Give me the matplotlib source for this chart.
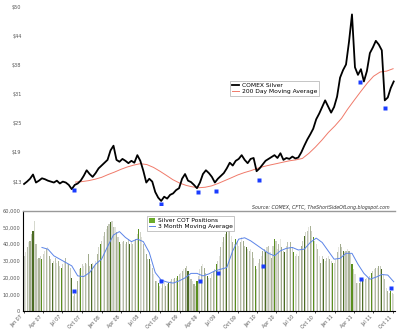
import matplotlib
matplotlib.use('Agg')
import matplotlib.pyplot as plt
import matplotlib.dates as mdates
from matplotlib.patches import Patch
from matplotlib.lines import Line2D
from matplotlib.ticker import FuncFormatter
import pandas as pd

# COMEX silver, every two weeks from Jan 2007
silver_price = [
    12.5, 13.0, 13.6, 14.5, 12.8, 13.2, 13.7, 13.5, 13.2, 13.0,
    12.8, 13.2, 12.6, 13.0, 12.8, 12.3, 11.4, 12.3, 12.6, 13.2,
    14.2, 15.4, 14.6, 14.0, 14.8, 15.8, 16.4, 17.0, 17.6, 19.6,
    20.6, 17.6, 17.2, 17.8, 17.4, 16.9, 17.4, 17.0, 18.6, 17.4,
    15.3, 12.8, 13.6, 13.0, 10.8, 9.6, 8.9, 9.8, 9.4, 10.2,
    10.5, 11.2, 11.6, 13.6, 14.6, 13.2, 12.9, 12.3, 11.6, 12.8,
    14.6, 15.4, 14.8, 14.0, 12.8, 13.6, 14.2, 14.8, 15.8, 17.0,
    16.4, 17.4, 17.8, 18.6, 17.6, 16.9, 17.8, 18.0, 15.2, 15.8,
    16.6, 17.4, 17.8, 18.2, 18.6, 18.0, 19.0, 17.6, 18.0, 17.8,
    18.3, 17.9, 18.1, 19.2, 20.6, 21.9, 23.0, 24.2, 26.2, 27.4,
    28.8, 30.2, 28.9, 27.6, 28.8, 31.0, 35.0, 36.6, 37.8, 42.6,
    48.4, 37.2, 35.6, 36.8, 34.2, 36.4, 40.2, 41.4, 42.8, 42.0,
    40.8, 30.2, 30.8, 32.8, 34.2,
]
price_dates = pd.date_range('2007-01-02', periods=len(silver_price), freq='14D')

# 200 day moving average, monthly from Sep 2007
ma200 = [
    12.9, 13.0, 13.2, 13.5, 13.9, 14.5, 15.0, 15.6, 16.1, 16.5,
    16.8, 16.6, 16.0, 15.2, 14.3, 13.4, 12.7, 12.2, 11.9, 11.7,
    11.8, 12.1, 12.6, 13.2, 13.8, 14.4, 14.9, 15.3, 15.8, 16.2,
    16.5, 16.8, 17.1, 17.4, 17.6, 17.9, 19.0, 20.3, 21.8, 23.4,
    24.8, 26.4, 28.3, 30.2, 32.0, 33.8, 35.3, 36.2, 36.4, 36.9,
]
ma200_dates = pd.date_range('2007-09-01', periods=len(ma200), freq='MS')

# COT positions (thousands), weekly from Jan 2007
cot = [
    33, 35, 38, 41, 42, 46, 48, 54, 40, 31,
    32, 33, 31, 34, 36, 37, 38, 33, 31, 29,
    30, 32, 29, 30, 27, 26, 28, 30, 32, 29,
    28, 26, 20, 9, 10, 12, 18, 25, 26, 28,
    27, 29, 28, 34, 27, 28, 29, 27, 30, 34,
    38, 40, 42, 45, 47, 49, 51, 52, 53, 54,
    50, 50, 47, 44, 41, 40, 41, 42, 40, 41,
    43, 40, 41, 40, 42, 43, 46, 49, 47, 44,
    40, 37, 34, 31, 31, 28, 26, 22, 18, 18,
    17, 15, 14, 16, 18, 15, 16, 17, 18, 19,
    19, 20, 20, 21, 22, 23, 24, 25, 26, 27,
    24, 21, 19, 18, 16, 15, 18, 21, 25, 27,
    28, 26, 23, 21, 20, 20, 22, 24, 25, 28,
    30, 33, 38, 41, 44, 46, 47, 48, 48, 45,
    41, 40, 43, 42, 39, 41, 44, 42, 39, 38,
    37, 36, 37, 35, 32, 27, 25, 29, 31, 33,
    36, 37, 35, 38, 39, 35, 32, 39, 43, 42,
    37, 40, 43, 38, 36, 35, 39, 41, 38, 41,
    38, 35, 33, 34, 33, 36, 39, 42, 45, 47,
    48, 50, 51, 48, 44, 42, 40, 37, 33, 29,
    33, 31, 30, 32, 33, 31, 30, 29, 29, 31,
    35, 38, 40, 38, 36, 35, 36, 37, 36, 34,
    28, 25, 22, 17, 17, 17, 18, 18, 19, 19,
    20, 20, 21, 23, 24, 25, 26, 26, 27, 27,
    25, 22, 19, 14, 12, 11, 12, 11, 10,
]
cot = [v * 1000 for v in cot]
cot_dates = pd.date_range('2007-01-02', periods=len(cot), freq='7D')

# 3 month moving average of COT, every 4 weeks
cot_ma = [
    38, 37, 33, 31, 29, 27, 21, 20.6, 23, 28,
    31, 38.5, 45.5, 47.5, 44, 41.5, 43, 41.5, 35, 23,
    18.5, 17.3, 16.7, 18, 19.8, 22.5, 22.5, 21, 22.2, 24,
    25, 26, 36, 43, 43.8, 42, 39.5, 37, 34.5, 33,
    36, 37.5, 38, 36.5, 37, 41, 43.6, 41, 36, 31,
    31.5, 34.5, 34.5, 28, 22.5, 19, 20.2, 21.8, 21.5, 17.5,
]
cot_ma = [v * 1000 for v in cot_ma]
cot_ma_dates = pd.date_range('2007-03-27', periods=len(cot_ma), freq='28D')

# blue markers
low_dates_top = pd.to_datetime(['2007-08-23', '2008-10-04', '2009-03-27', '2009-06-20',
                                '2010-01-10', '2011-04-27', '2011-08-26'])
low_price = [11.2, 8.3, 10.7, 11.1, 13.4, 34.0, 28.5]
low_dates_bot = pd.to_datetime(['2007-08-24', '2008-10-07', '2009-04-07', '2009-06-30',
                                '2010-01-26', '2011-05-04', '2011-09-20'])
low_cot = [12000, 17800, 17800, 22600, 26700, 19000, 13700]

price_ticks = [13, 19.17, 25.33, 31.5, 37.67, 43.83, 50]
price_labels = ['$13', '$19', '$25', '$31', '$38', '$44', '$50']

bar_palette = ['#cdd0c4', '#dfe0d9', '#b4baa6', '#e5e6e0', '#a0aa8c', '#c6cabb', '#4c6c24',
               '#d5d8cd', '#bec3b2', '#e2e3dc', '#aab296', '#d0d3c8', '#5a8f1e']

fig = plt.figure(figsize=(4, 3.3), dpi=100)
ax1 = fig.add_axes([0.0575, 0.379, 0.93, 0.606])
ax2 = fig.add_axes([0.0575, 0.0576, 0.93, 0.3039], sharex=ax1)

tick_col = '#555555'

# upper panel
ax1.plot(ma200_dates, ma200, color='#f07a6a', lw=0.7, label='200 Day Moving Average', zorder=2)
ax1.plot(price_dates, silver_price, color='black', lw=1.3, label='COMEX Silver', zorder=3)
ax1.plot(low_dates_top, low_price, 's', color='#1a3cff', ms=2.2, mec='none', zorder=4)
ax1.set_ylim(8.06, 50.4)
ax1.set_yticks(price_ticks)
ax1.set_yticklabels(price_labels)
for s in ax1.spines.values():
    s.set_visible(False)
ax1.tick_params(axis='y', length=0, labelsize=3.6, labelcolor=tick_col, pad=1)
ax1.tick_params(axis='x', bottom=False, labelbottom=False)
h, l = ax1.get_legend_handles_labels()
leg1 = ax1.legend([h[1], h[0]], [l[1], l[0]], loc='upper left', bbox_to_anchor=(0.548, 0.635),
                  fontsize=4.3, frameon=True, fancybox=False, handlelength=1.2,
                  borderpad=0.3, labelspacing=0.15, handletextpad=0.5)
leg1.get_frame().set_edgecolor('#aaaaaa')
leg1.get_frame().set_linewidth(0.6)

# lower panel
colors = [bar_palette[i % len(bar_palette)] for i in range(len(cot))]
ax2.bar(cot_dates, cot, width=5.0, color=colors, linewidth=0, zorder=2)
ax2.plot(cot_ma_dates, cot_ma, color='#5b84e8', lw=0.7, zorder=3)
ax2.plot(low_dates_bot, low_cot, 's', color='#1a3cff', ms=2.2, mec='none', zorder=4)
ax2.set_ylim(0, 60000)
ax2.set_yticks(range(0, 60001, 10000))
ax2.yaxis.set_major_formatter(FuncFormatter(lambda v, p: f'{int(v):,}'))
ax2.spines['right'].set_visible(False)
ax2.spines['top'].set_color('#999999')
ax2.spines['top'].set_linewidth(1.0)
ax2.spines['left'].set_linewidth(0.8)
ax2.spines['bottom'].set_linewidth(0.8)
ax2.tick_params(axis='y', length=0, labelsize=3.6, labelcolor=tick_col, pad=2)
ax2.tick_params(axis='x', length=1.5, width=0.5, labelsize=3.4, labelcolor=tick_col, pad=1)
ax2.xaxis.set_major_locator(mdates.MonthLocator(bymonth=[1, 4, 7, 10]))
ax2.xaxis.set_major_formatter(mdates.DateFormatter('%b %y'))
for lab in ax2.get_xticklabels():
    lab.set_rotation(45)
    lab.set_ha('right')
ax2.set_xlim(pd.Timestamp('2006-12-28'), pd.Timestamp('2011-10-10'))

handles2 = [Patch(facecolor='#6aab2a', edgecolor='none'),
            Line2D([], [], color='#5b84e8', lw=0.7)]
leg2 = ax2.legend(handles2, ['Silver COT Positions', '3 Month Moving Average'],
                  loc='upper left', bbox_to_anchor=(0.325, 0.975), fontsize=4.3,
                  frameon=True, fancybox=False, handlelength=1.0, handleheight=0.8,
                  borderpad=0.3, labelspacing=0.1, handletextpad=0.5)
leg2.get_frame().set_edgecolor('#aaaaaa')
leg2.get_frame().set_linewidth(0.6)

fig.text(0.975, 0.372, 'Source: COMEX, CFTC, TheShortSideOfLong.blogspot.com',
         fontsize=3.4, style='italic', color='#333333', ha='right', va='center')

fig.savefig('out.png', dpi=100)
